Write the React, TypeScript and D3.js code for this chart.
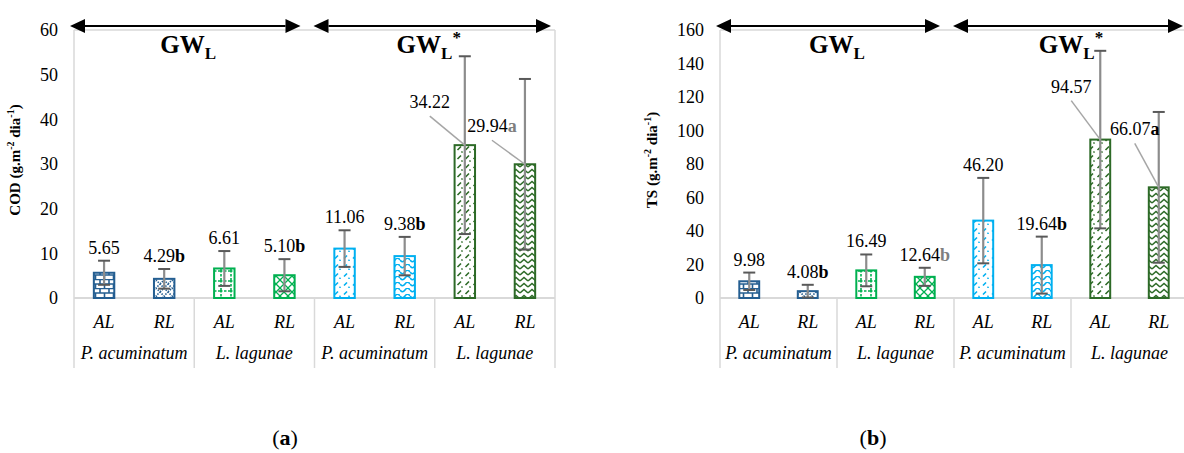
import * as d3 from 'd3';

const leaves = ['AL', 'RL', 'AL', 'RL', 'AL', 'RL', 'AL', 'RL'];
const species = ['P. acuminatum', 'L. lagunae', 'P. acuminatum', 'L. lagunae'];
const treatments = ['GW', 'GW*'];

const codValues = [5.65, 4.29, 6.61, 5.1, 11.06, 9.38, 34.22, 29.94];
const codErrors = [2.7, 2.2, 3.9, 3.6, 4.1, 4.3, 19.9, 19.1];
const codLetters = ['', 'b', '', 'b', '', 'b', '', 'a'];
const codTicks = [0, 10, 20, 30, 40, 50, 60];

const tsValues = [9.98, 4.08, 16.49, 12.64, 46.2, 19.64, 94.57, 66.07];
const tsErrors = [5.2, 3.8, 9.5, 5.4, 25.5, 17.0, 53.0, 45.0];
const tsLetters = ['', 'b', '', 'b', '', 'b', '', 'a'];
const tsTicks = [0, 20, 40, 60, 80, 100, 120, 140, 160];

// bar colours / patterns (pair per species x treatment)
const BAR_COLORS = ['#245E91', '#245E91', '#00B050', '#00B050', '#00B0F0', '#00B0F0', '#2D6A27', '#2D6A27'];
const SERIF = "'Liberation Serif', 'Times New Roman', Times, serif";

function patternBody(i: number, c: string) {
  const s = { stroke: c, fill: 'none', strokeWidth: 1.6 };
  switch (i) {
    case 0:
      return { w: 9, h: 9, el: <path d="M0 0.5H9M0 5H9M1 0.5V5M5.5 5V9" {...s} /> };
    case 1:
      return { w: 8, h: 8, el: <path d="M0 4L4 0L8 4L4 8Z" {...s} strokeDasharray="1.5 1.2" /> };
    case 2:
      return { w: 10, h: 10, el: <path d="M0 1H10M1 0V10" {...s} strokeDasharray="2.5 1.5" /> };
    case 3:
      return { w: 8, h: 8, el: <path d="M0 0L8 8M8 0L0 8" {...s} strokeWidth={1.3} /> };
    case 4:
      return { w: 9, h: 9, el: <path d="M2 6.5L5 3.5M6.5 8.8L7.5 7.8" {...s} /> };
    case 5:
      return { w: 10, h: 6, el: <path d="M0 2Q2.5 5.5 5 2T10 2" {...s} /> };
    case 6:
      return { w: 8, h: 9, el: <path d="M1.5 6L5 2.5M5.5 8.5L6.5 7.5" {...s} /> };
    default:
      return { w: 8, h: 6, el: <path d="M0 5L4 1.5L8 5" {...s} /> };
  }
}

interface PanelProps {
  id: string;
  values: number[];
  errors: number[];
  letters: string[];
  letterGray: boolean[];
  ticks: number[];
  x0: number;
  x1: number;
  title: string;
  titleX: number;
  caption: string;
  captionX: number;
  // offset (dx, dy) of moved labels relative to bar top
  shifted: Record<number, [number, number]>;
}

function Arrow({ xa, xb, y }: { xa: number; xb: number; y: number }) {
  const L = 15;
  const H = 7;
  return (
    <g>
      <line x1={xa + L} x2={xb - L} y1={y} y2={y} stroke="#000" strokeWidth={2} />
      <path d={`M${xa} ${y}L${xa + L} ${y - H}L${xa + L} ${y + H}Z`} fill="#000" />
      <path d={`M${xb} ${y}L${xb - L} ${y - H}L${xb - L} ${y + H}Z`} fill="#000" />
    </g>
  );
}

function Panel(p: PanelProps) {
  const top = 30;
  const bottom = 298;
  const yMax = p.ticks[p.ticks.length - 1];
  const y = d3.scaleLinear().domain([0, yMax]).range([bottom, top]);
  const x = d3
    .scaleBand<number>()
    .domain(d3.range(p.values.length))
    .range([p.x0, p.x1])
    .paddingInner(0.66)
    .paddingOuter(0.33);
  const step = x.step();
  const bw = x.bandwidth();
  const grid = '#D9D9D9';
  const mid = p.x0 + step * 4;

  return (
    <g style={{ fontFamily: SERIF }}>
      <defs>
        {p.values.map((_, i) => {
          const pb = patternBody(i, BAR_COLORS[i]);
          return (
            <pattern key={i} id={`${p.id}-p${i}`} patternUnits="userSpaceOnUse" width={pb.w} height={pb.h}>
              <rect width={pb.w} height={pb.h} fill="#fff" />
              {pb.el}
            </pattern>
          );
        })}
      </defs>

      {/* frame and category axis */}
      <line x1={p.x0} x2={p.x1} y1={top} y2={top} stroke={grid} strokeWidth={1.5} />
      <line x1={p.x1} x2={p.x1} y1={top} y2={bottom} stroke={grid} strokeWidth={1.5} />
      <line x1={p.x0} x2={p.x0} y1={top} y2={bottom} stroke={grid} strokeWidth={1.5} />
      <line x1={p.x0} x2={p.x1} y1={bottom} y2={bottom} stroke={grid} strokeWidth={2} />
      {d3.range(0, 9, 2).map((k) => (
        <line key={k} x1={p.x0 + k * step} x2={p.x0 + k * step} y1={bottom} y2={368} stroke={grid} strokeWidth={1.5} />
      ))}

      {/* y ticks */}
      {p.ticks.map((t) => (
        <text key={t} x={p.x0 - 16} y={y(t)} dy="0.35em" textAnchor="end" fontSize={18} fill="#000">
          {t}
        </text>
      ))}
      <text
        transform={`translate(${p.titleX},${(top + bottom) / 2 - 4}) rotate(-90)`}
        textAnchor="middle"
        fontSize={15}
        fontWeight={700}
      >
        {p.title} (g.m
        <tspan fontSize={10} dy={-6}>-2</tspan>
        <tspan dy={6}> dia</tspan>
        <tspan fontSize={10} dy={-6}>-1</tspan>
        <tspan dy={6}>)</tspan>
      </text>

      {/* bars */}
      {p.values.map((v, i) => (
        <rect
          key={i}
          x={x(i)}
          y={y(v)}
          width={bw}
          height={bottom - y(v)}
          fill={`url(#${p.id}-p${i})`}
          stroke={BAR_COLORS[i]}
          strokeWidth={2}
        />
      ))}

      {/* error bars */}
      {p.values.map((v, i) => {
        const cx = (x(i) ?? 0) + bw / 2;
        const hi = y(v + p.errors[i]);
        const lo = y(Math.max(0, v - p.errors[i]));
        return (
          <g key={i}>
            <line x1={cx} x2={cx} y1={hi} y2={lo} stroke="#8C8C8C" strokeWidth={2.2} />
            <line x1={cx - 6} x2={cx + 6} y1={hi} y2={hi} stroke="#595959" strokeWidth={2} />
            <line x1={cx - 6} x2={cx + 6} y1={lo} y2={lo} stroke="#595959" strokeWidth={2} />
          </g>
        );
      })}

      {/* value labels */}
      {p.values.map((v, i) => {
        const cx = (x(i) ?? 0) + bw / 2;
        const sh = p.shifted[i];
        let lx = cx;
        let ly = y(v + p.errors[i]) - 7;
        if (sh) {
          lx = cx + sh[0];
          ly = y(v) + sh[1];
        }
        return (
          <g key={i}>
            {sh && <line x1={lx} y1={ly + 8} x2={cx} y2={y(v)} stroke="#A6A6A6" strokeWidth={1.5} />}
            <text x={lx} y={ly} textAnchor="middle" fontSize={18} fill="#000">
              {v.toFixed(2)}
              {p.letters[i] && (
                <tspan fontWeight={700} fill={p.letterGray[i] ? '#7F7F7F' : '#000'}>
                  {p.letters[i]}
                </tspan>
              )}
            </text>
          </g>
        );
      })}

      {/* category labels */}
      {leaves.map((l, i) => (
        <text key={i} x={(x(i) ?? 0) + bw / 2} y={328} textAnchor="middle" fontSize={18} fontStyle="italic">
          {l}
        </text>
      ))}
      {species.map((s, k) => (
        <text key={k} x={p.x0 + step * (2 * k + 1)} y={359} textAnchor="middle" fontSize={18} fontStyle="italic">
          {s}
        </text>
      ))}

      {/* treatment arrows */}
      <Arrow xa={p.x0 - 4} xb={mid - 14} y={top - 4} />
      <Arrow xa={mid - 1} xb={Math.min(p.x1 - 4, 1183)} y={top - 4} />
      {treatments.map((t, k) => (
        <text
          key={t}
          x={p.x0 + step * (4 * k + 2) - (p.x0 < 300 ? 6 : 0)}
          y={top + 23}
          textAnchor="middle"
          fontSize={25}
          fontWeight={700}
        >
          GW
          <tspan fontSize={17} dy={6}>L</tspan>
          {k === 1 && <tspan fontSize={17} dy={-16}>*</tspan>}
        </text>
      ))}

      <text x={p.captionX} y={445} textAnchor="middle" fontSize={22}>
        (<tspan fontWeight={700}>{p.caption}</tspan>)
      </text>
    </g>
  );
}

export default function App() {
  return (
    <svg
      width={1184}
      height={453}
      viewBox="0 0 1184 453"
      style={{ position: 'absolute', left: 0, top: 0, background: '#fff', fontFamily: SERIF }}
    >
      <rect width={1184} height={453} fill="#fff" />
      <Panel
        id="cod"
        values={codValues}
        errors={codErrors}
        letters={codLetters}
        letterGray={[false, false, false, false, false, false, false, true]}
        ticks={codTicks}
        x0={74}
        x1={555}
        title="COD"
        titleX={20}
        caption="a"
        captionX={285}
        shifted={{ 6: [-35, -37], 7: [-33, -32] }}
      />
      <Panel
        id="ts"
        values={tsValues}
        errors={tsErrors}
        letters={tsLetters}
        letterGray={[false, false, false, true, false, false, false, false]}
        ticks={tsTicks}
        x0={720}
        x1={1188}
        title="TS"
        titleX={657}
        caption="b"
        captionX={873}
        shifted={{ 6: [-29, -47], 7: [-24, -52] }}
      />
    </svg>
  );
}
